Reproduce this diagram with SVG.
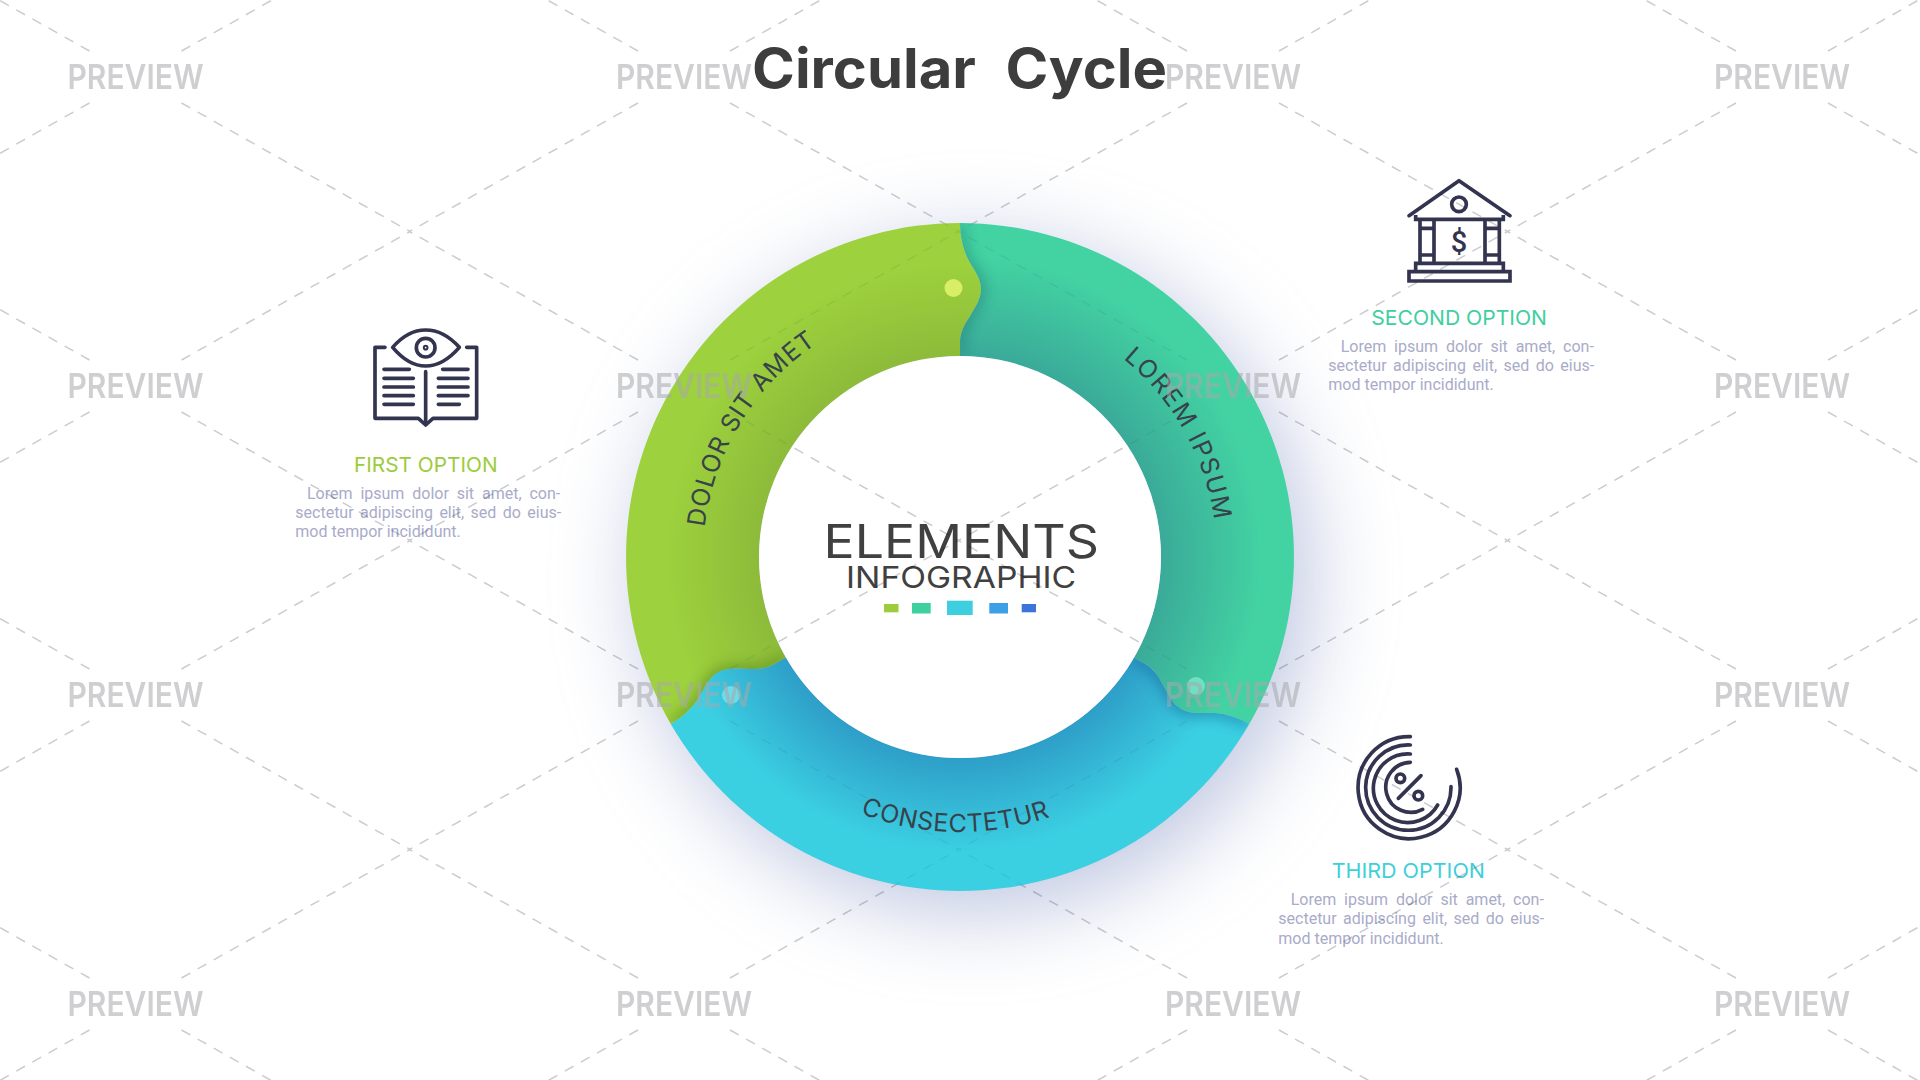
<svg xmlns="http://www.w3.org/2000/svg" xmlns:xlink="http://www.w3.org/1999/xlink" width="1920" height="1080" viewBox="0 0 1920 1080">
<style>
.title{font-family:Inter,"Liberation Sans",sans-serif;font-weight:700;font-size:55px;fill:#3d3d3d;white-space:pre;word-spacing:1px}
.ring{font-family:Inter,"Liberation Sans",sans-serif;font-weight:400;font-size:25px;letter-spacing:.6px;fill:#37424a}
.opt{font-family:Inter,"Liberation Sans",sans-serif;font-weight:400;font-size:20px}
.body{font-family:Roboto,"Liberation Sans",sans-serif;font-size:16px;fill:#a9abc8}
.mid{font-family:Inter,"Liberation Sans",sans-serif;font-weight:400;fill:#404040}
.ico{fill:none;stroke:#33344f;stroke-width:11;stroke-linecap:round;stroke-linejoin:round}
.ico .sq{stroke-linecap:butt;stroke-linejoin:miter}
.wm{font-family:Inter,"Liberation Sans",sans-serif;font-weight:600;font-size:34px;fill:#a8a8ac;fill-opacity:.55}
.ray{stroke:#cbcbd2;stroke-width:1.5;stroke-dasharray:10 8.5;fill:none}
</style>
<defs>
<radialGradient id="gGreen" gradientUnits="userSpaceOnUse" cx="0" cy="0" r="334"><stop offset=".6" stop-color="#8dbb3a"/><stop offset=".88" stop-color="#9dd13d"/></radialGradient>
<radialGradient id="gTeal" gradientUnits="userSpaceOnUse" cx="0" cy="0" r="334"><stop offset=".6" stop-color="#3aaa99"/><stop offset=".9" stop-color="#43d2a2"/></radialGradient>
<radialGradient id="gBlue" gradientUnits="userSpaceOnUse" cx="0" cy="0" r="334"><stop offset=".6" stop-color="#2e9ec8"/><stop offset=".88" stop-color="#3bcfe2"/></radialGradient>
<filter id="soft" x="-40%" y="-40%" width="180%" height="180%"><feGaussianBlur stdDeviation="44"/></filter>
<filter id="tipBlur" x="-100%" y="-30%" width="300%" height="160%"><feGaussianBlur stdDeviation="7"/></filter>
<path id="seg" d="M0,-334 C0,-318 4,-305 9.6,-295 C14,-287 21,-279 21,-267.5 C21,-257 14,-248 9.6,-240 C4,-232 0,-224 0,-214 L0,-201 A201,201 0 0 0 -174.1,100.5 L-185.3,107 C-194,112 -202.9,112.5 -212.6,111.7 C-221.8,111.9 -233.1,110.3 -242.2,115.6 C-252.1,121.3 -255.5,131.4 -260.3,139.2 C-266.1,149 -275.4,159 -289.2,167 A334,334 0 0 1 0,-334 Z"/>
<path id="tip" d="M-10,-334 L0,-334 C0,-318 4,-305 9.6,-295 C14,-287 21,-279 21,-267.5 C21,-257 14,-248 9.6,-240 C4,-232 0,-224 0,-214 L0,-201 L-10,-201 Z"/>
<clipPath id="clipNext"><use href="#seg" transform="rotate(120)"/></clipPath>
<clipPath id="offRing"><path clip-rule="evenodd" d="M0,0 H1920 V1080 H0 Z M626,557 A334,334 0 1 0 1294,557 A334,334 0 1 0 626,557 Z M759,557 A201,201 0 1 0 1161,557 A201,201 0 1 0 759,557 Z"/></clipPath>
<clipPath id="onRing"><path clip-rule="evenodd" d="M626,557 A334,334 0 1 0 1294,557 A334,334 0 1 0 626,557 Z M759,557 A201,201 0 1 0 1161,557 A201,201 0 1 0 759,557 Z"/></clipPath>
<path id="arcGreen" d="M731,673.7 A257,257 0 0 1 973.5,300.4"/>
<path id="arcTeal" d="M960,300 A257,257 0 0 1 1182.6,685.5"/>
<path id="arcBlue" d="M719.5,690.4 A275,275 0 0 0 1195.7,698.6"/>
<g id="rays" class="ray"><line x1="46" y1="26" x2="274.5" y2="154.5"/><line x1="-46" y1="26" x2="-274.5" y2="154.5"/><line x1="46" y1="-26" x2="274.5" y2="-154.5"/><line x1="-46" y1="-26" x2="-274.5" y2="-154.5"/></g>
<g id="rayGrid">
<use href="#rays" x="135.5" y="77"/><use href="#rays" x="684" y="77"/><use href="#rays" x="1233" y="77"/><use href="#rays" x="1782" y="77"/>
<use href="#rays" x="135.5" y="386"/><use href="#rays" x="684" y="386"/><use href="#rays" x="1233" y="386"/><use href="#rays" x="1782" y="386"/>
<use href="#rays" x="135.5" y="695"/><use href="#rays" x="684" y="695"/><use href="#rays" x="1233" y="695"/><use href="#rays" x="1782" y="695"/>
<use href="#rays" x="135.5" y="1004"/><use href="#rays" x="684" y="1004"/><use href="#rays" x="1233" y="1004"/><use href="#rays" x="1782" y="1004"/>
</g>
</defs>
<rect width="1920" height="1080" fill="#fff"/>
<text id="title" class="title" x="752" y="88" textLength="415" lengthAdjust="spacingAndGlyphs">Circular  Cycle</text>
<circle cx="975" cy="578" r="334" fill="#8e9cca" opacity=".58" filter="url(#soft)"/>
<g id="ring" transform="translate(960 557)">
<g id="seg-green"><use href="#seg" fill="url(#gGreen)"/></g>
<g id="seg-teal" transform="rotate(120)"><use href="#seg" fill="url(#gTeal)"/></g>
<g id="seg-blue" transform="rotate(240)"><use href="#seg" fill="url(#gBlue)"/></g>
<g clip-path="url(#clipNext)"><use href="#tip" fill="#0c4a5c" opacity=".3" filter="url(#tipBlur)" transform="translate(4 0)"/></g>
<g transform="rotate(120)"><g clip-path="url(#clipNext)"><use href="#tip" fill="#0c4a7c" opacity=".42" filter="url(#tipBlur)" transform="translate(4 0)"/></g></g>
<g transform="rotate(240)"><g clip-path="url(#clipNext)"><use href="#tip" fill="#3a6a10" opacity=".42" filter="url(#tipBlur)" transform="translate(4 0)"/></g></g>
<circle cx="-6.5" cy="-269" r="9" fill="#d8ee64"/>
<circle cx="236" cy="129" r="9" fill="#6fe0c4"/>
<circle cx="-229" cy="138" r="9" fill="#6fdcea"/>
<circle id="hub" r="201" fill="#fff"/>
</g>
<text class="ring"><textPath href="#arcGreen" startOffset="48.7%" text-anchor="middle" letter-spacing=".9">DOLOR SIT AMET</textPath></text>
<text class="ring"><textPath href="#arcTeal" startOffset="50.6%" text-anchor="middle" letter-spacing="1.6">LOREM IPSUM</textPath></text>
<text class="ring"><textPath href="#arcBlue" startOffset="50%" text-anchor="middle">CONSECTETUR</textPath></text>
<g id="center">
<text class="mid" x="823.6" y="558" font-size="46" textLength="275.4" lengthAdjust="spacingAndGlyphs">ELEMENTS</text>
<text class="mid" x="846" y="588" font-size="30" textLength="230" lengthAdjust="spacingAndGlyphs">INFOGRAPHIC</text>
<rect x="884" y="604" width="14.5" height="8.3" fill="#9ccc3c"/>
<rect x="912" y="603" width="18.7" height="10.5" fill="#3fd0a0"/>
<rect x="947" y="600.7" width="25.7" height="14.3" fill="#3dcfe0"/>
<rect x="989.3" y="603" width="18.7" height="10.5" fill="#3d9fe6"/>
<rect x="1021.7" y="604" width="14.3" height="8.3" fill="#3d74dc"/>
</g>
<g id="first-option">
<g class="ico" transform="translate(270 310) scale(.33333)">
<path d="M345,112 H315 V325 H445 L467,345 L489,325 H620 V112 H590"/>
<path d="M368,112 C400,75 435,60 467,60 C500,60 535,75 568,112 C535,150 500,168 467,168 C435,168 400,150 368,112 Z"/>
<circle cx="467" cy="113" r="28"/><circle cx="467" cy="113" r="3"/>
<path d="M467,185 V340 M342,178 H418 M342,205 H430 M342,231 H430 M342,257 H430 M342,283 H430 M518,178 H594 M505,205 H594 M505,231 H594 M505,257 H594 M505,283 H568"/>
</g>
<text class="opt" x="354" y="471.6" fill="#9ccc3c" textLength="143.6" lengthAdjust="spacingAndGlyphs">FIRST OPTION</text>
<text class="body" x="307" y="499.3" word-spacing="3.9">Lorem ipsum dolor sit amet, con-</text>
<text class="body" x="295.3" y="518.3" word-spacing="2.5">sectetur adipiscing elit, sed do eius-</text>
<text class="body" x="295.3" y="537.3">mod tempor incididunt.</text>
</g>
<g id="second-option">
<g class="ico" transform="translate(1310 160) scale(.33333)">
<path d="M297,167 L447,62 L600,167"/>
<path class="sq" d="M317,165 V178 H580 V165"/>
<circle cx="447" cy="133" r="22"/>
<path class="sq" d="M330,178 V310 M372,178 V310 M525,178 V310 M568,178 V310 M330,205 H372 M330,285 H372 M525,205 H568 M525,285 H568"/>
<path class="sq" d="M317,335 V310 H580 V335 M297,335 H600 V363 H297 Z"/>
</g>
<text id="dollar" x="1459" y="252" text-anchor="middle" font-family="Roboto,'Liberation Sans',sans-serif" font-size="29" font-weight="500" fill="#33344f">$</text>
<text class="opt" x="1371.3" y="324.6" fill="#3fcfa0" textLength="175.7" lengthAdjust="spacingAndGlyphs">SECOND OPTION</text>
<text class="body" x="1340.7" y="352" word-spacing="3.9">Lorem ipsum dolor sit amet, con-</text>
<text class="body" x="1328.3" y="371" word-spacing="2.5">sectetur adipiscing elit, sed do eius-</text>
<text class="body" x="1328.3" y="390.3">mod tempor incididunt.</text>
</g>
<g id="third-option">
<g class="ico" transform="translate(1261 720) scale(.33333)">
<path d="M448,50 A153,153 0 1 0 587,148"/>
<path d="M448,75 A128,128 0 1 0 570,200"/>
<path d="M448,102 A103,103 0 1 0 530,255"/>
<path d="M448,127 A75,75 0 1 0 485,268"/>
<circle cx="418" cy="175" r="13"/><circle cx="472" cy="227" r="13"/>
<line x1="412" y1="235" x2="480" y2="167"/>
</g>
<text class="opt" x="1331.7" y="878" fill="#3fcfda" textLength="153.3" lengthAdjust="spacingAndGlyphs">THIRD OPTION</text>
<text class="body" x="1290.7" y="905.3" word-spacing="3.9">Lorem ipsum dolor sit amet, con-</text>
<text class="body" x="1278.3" y="924.3" word-spacing="2.5">sectetur adipiscing elit, sed do eius-</text>
<text class="body" x="1278.3" y="943.6">mod tempor incididunt.</text>
</g>
<g id="watermark">
<g clip-path="url(#offRing)" style="mix-blend-mode:multiply"><use href="#rayGrid"/></g>
<g clip-path="url(#onRing)" opacity=".3" style="mix-blend-mode:multiply"><use href="#rayGrid"/></g>
<g class="wm">
<text x="67.5" y="89" textLength="136" lengthAdjust="spacingAndGlyphs">PREVIEW</text><text x="616" y="89" textLength="136" lengthAdjust="spacingAndGlyphs">PREVIEW</text><text x="1165" y="89" textLength="136" lengthAdjust="spacingAndGlyphs">PREVIEW</text><text x="1714" y="89" textLength="136" lengthAdjust="spacingAndGlyphs">PREVIEW</text>
<text x="67.5" y="398" textLength="136" lengthAdjust="spacingAndGlyphs">PREVIEW</text><text x="616" y="398" textLength="136" lengthAdjust="spacingAndGlyphs">PREVIEW</text><text x="1165" y="398" textLength="136" lengthAdjust="spacingAndGlyphs">PREVIEW</text><text x="1714" y="398" textLength="136" lengthAdjust="spacingAndGlyphs">PREVIEW</text>
<text x="67.5" y="707" textLength="136" lengthAdjust="spacingAndGlyphs">PREVIEW</text><text x="616" y="707" textLength="136" lengthAdjust="spacingAndGlyphs">PREVIEW</text><text x="1165" y="707" textLength="136" lengthAdjust="spacingAndGlyphs">PREVIEW</text><text x="1714" y="707" textLength="136" lengthAdjust="spacingAndGlyphs">PREVIEW</text>
<text x="67.5" y="1016" textLength="136" lengthAdjust="spacingAndGlyphs">PREVIEW</text><text x="616" y="1016" textLength="136" lengthAdjust="spacingAndGlyphs">PREVIEW</text><text x="1165" y="1016" textLength="136" lengthAdjust="spacingAndGlyphs">PREVIEW</text><text x="1714" y="1016" textLength="136" lengthAdjust="spacingAndGlyphs">PREVIEW</text>
</g>
</g>
</svg>
